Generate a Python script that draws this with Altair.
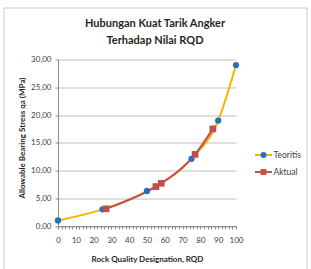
import altair as alt
import pandas as pd

# ---- data ----
rqd_teoritis = [0, 25, 50, 75, 90, 100]
qa_teoritis = [1.0, 3.0, 6.3, 12.1, 19.0, 29.0]
rqd_aktual = [27, 55, 58, 77, 87]
qa_aktual = [3.1, 7.1, 7.7, 12.9, 17.5]
series_names = ["Teoritis", "Aktual"]
title_lines = ["Hubungan Kuat Tarik Angker", "Terhadap Nilai RQD"]
x_ticks = list(range(0, 101, 2))
y_ticks = [0, 5, 10, 15, 20, 25, 30]

df_t = pd.DataFrame({"RQD": rqd_teoritis, "qa": qa_teoritis})
df_a = pd.DataFrame({"RQD": rqd_aktual, "qa": qa_aktual})

W, H = 178, 166.5
FONT = "Lato"
YEL = "#F7B500"
BLUE = "#2371C0"
RED = "#C0504D"
AXC = "#8C8C8C"

xs = alt.Scale(domain=[0, 100], nice=False)
ys = alt.Scale(domain=[0, 30], nice=False)

x_axis = alt.Axis(
    values=x_ticks,
    labelExpr="datum.value % 10 == 0 ? datum.label : ''",
    grid=False, tickSize=3, labelPadding=7, labelOverlap=False, labelFlush=False,
    domainColor=AXC, tickColor=AXC, labelColor="#404040", labelFont=FONT,
    labelFontSize=8, title="Rock Quality Designation, RQD", titleFont=FONT,
    titleFontSize=8, titleFontWeight="bold", titleColor="#262626",
    titleY=33, titleBaseline="middle",
)
y_axis = alt.Axis(
    values=y_ticks,
    labelExpr="replace(format(datum.value, '.2f'), '.', ',')",
    grid=True, gridColor="#BFBFBF", gridWidth=1, tickSize=3, labelPadding=4,
    domainColor=AXC, tickColor=AXC, labelColor="#404040", labelFont=FONT,
    labelFontSize=8, title="Allowable Bearing Stress qa (MPa)", titleFont=FONT,
    titleFontSize=8, titleFontWeight="bold", titleColor="#262626",
    titleX=-36, titleY=78, titleBaseline="middle", titleAngle=270,
)

X = alt.X("RQD:Q", scale=xs, axis=x_axis)
Y = alt.Y("qa:Q", scale=ys, axis=y_axis)

line_t = alt.Chart(df_t).mark_line(color=YEL, strokeWidth=2, interpolate="monotone").encode(x=X, y=Y)
line_a = alt.Chart(df_a).mark_line(color=RED, strokeWidth=2, interpolate="monotone").encode(x=X, y=Y)
pts_t = alt.Chart(df_t).mark_point(shape="circle", filled=True, color=BLUE, size=40, opacity=1).encode(x=X, y=Y)
pts_a = alt.Chart(df_a).mark_point(shape="square", filled=True, color=RED, size=45, opacity=1).encode(x=X, y=Y)

frame = alt.Chart(pd.DataFrame({"a": [0]})).mark_rect(
    fill=None, stroke="#C8C8C8", strokeWidth=1
).encode(x=alt.value(-54), x2=alt.value(249), y=alt.value(-51.5), y2=alt.value(220))

# chart title as text marks
def title_line(i, yy):
    return alt.Chart(pd.DataFrame({"t": [title_lines[i]]})).mark_text(
        align="center", baseline="middle", font=FONT, fontSize=11, fontWeight="bold",
        color="#262626").encode(x=alt.value(97), y=alt.value(yy), text="t:N")

# legend (drawn manually: line with marker)
def legend_row(name, lc, mc, shape, yy):
    d = pd.DataFrame({"name": [name]})
    r = alt.Chart(d).mark_rule(color=lc, strokeWidth=2).encode(
        x=alt.value(197), x2=alt.value(214), y=alt.value(yy))
    p = alt.Chart(d).mark_point(shape=shape, filled=True, color=mc, size=35, opacity=1).encode(
        x=alt.value(205.5), y=alt.value(yy))
    t = alt.Chart(d).mark_text(align="left", baseline="middle", font=FONT, fontSize=8.5,
                               color="#404040").encode(
        x=alt.value(215.5), y=alt.value(yy), text="name:N")
    return [r, p, t]

layers = [line_t, line_a, pts_t, pts_a, frame, title_line(0, -35.5), title_line(1, -18.5)]
layers += legend_row(series_names[0], YEL, BLUE, "circle", 95.5)
layers += legend_row(series_names[1], RED, RED, "square", 112.5)

chart = alt.layer(*layers).properties(
    width=W, height=H,
    background="white",
    autosize=alt.AutoSizeParams(type="none"),
    padding={"left": 58, "top": 59.5, "right": 75, "bottom": 43},
).configure_view(stroke=None)

chart.save("out.html", embed_options={"renderer": "svg", "actions": False})
